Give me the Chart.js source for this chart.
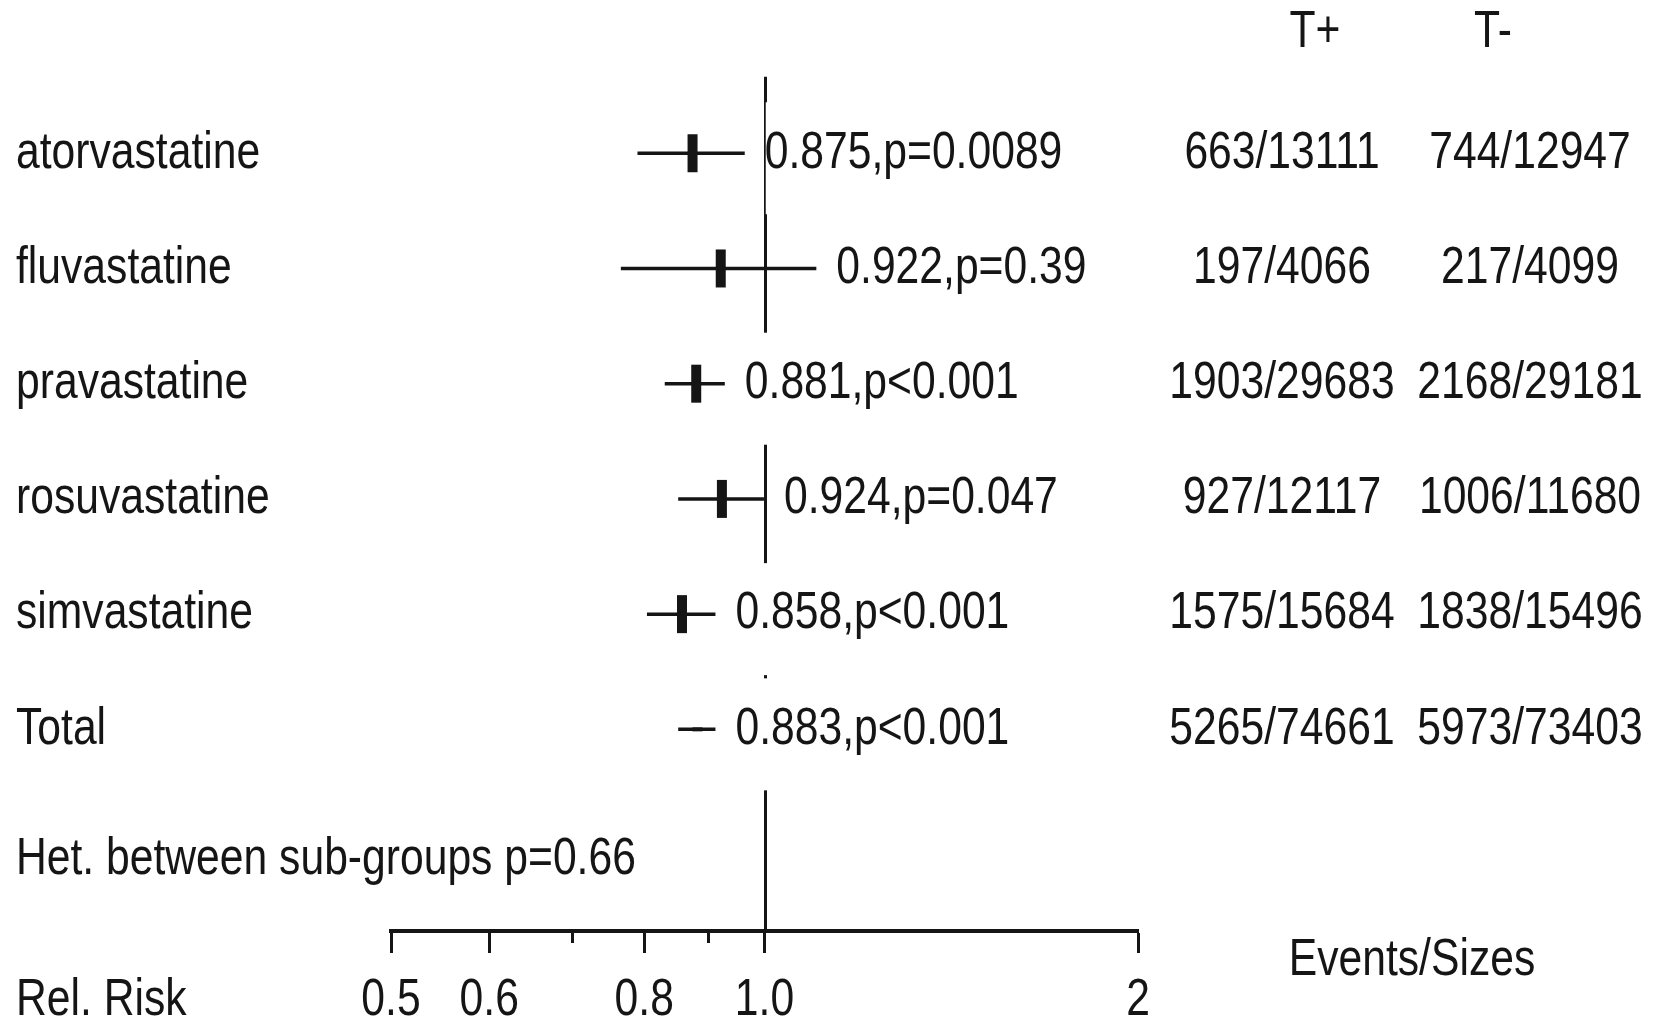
<!DOCTYPE html>
<html>
<head>
<meta charset="utf-8">
<title>Statins – relative risk by drug</title>
<script src="https://cdn.jsdelivr.net/npm/chart.js@4.4.1/dist/chart.umd.min.js"></script>
<style>
  html, body { margin: 0; padding: 0; background: #ffffff; }
  #wrap { width: 1654px; height: 1023px; }
</style>
</head>
<body>
<div id="wrap"><canvas id="forest" width="1654" height="1023"></canvas></div>
<script>
// ---- data -------------------------------------------------------------
const drugs        = ['atorvastatine', 'fluvastatine', 'pravastatine', 'rosuvastatine', 'simvastatine', 'Total'];
const relRisk      = [0.875, 0.922, 0.881, 0.924, 0.858, 0.883];
const ciLow        = [0.790, 0.766, 0.831, 0.852, 0.804, 0.852];
const ciHigh       = [0.964, 1.101, 0.929, 0.999, 0.913, 0.913];
const pValues      = ['p=0.0089', 'p=0.39', 'p<0.001', 'p=0.047', 'p<0.001', 'p<0.001'];
const eventsTreat  = ['663/13111', '197/4066', '1903/29683', '927/12117', '1575/15684', '5265/74661'];
const eventsCtrl   = ['744/12947', '217/4099', '2168/29181', '1006/11680', '1838/15496', '5973/73403'];
const groupHeaders = ['T+', 'T-'];
const hetLabel     = 'Het. between sub-groups p=0.66';
const axisTitle    = 'Rel. Risk';
const eventsTitle  = 'Events/Sizes';
const tickValues   = [0.5, 0.6, 0.7, 0.8, 0.9, 1.0, 2];
const tickLabels   = ['0.5', '0.6', '', '0.8', '', '1.0', '2'];
const nullValue    = 1.0;

// ---- styling ----------------------------------------------------------
const INK     = '#151515';
const FONT    = "'Liberation Sans', Arial, sans-serif";
const FSIZE   = 52;
const SQUEEZE = 0.82;            // narrow, tall lettering
const totalIndex = drugs.length - 1;

// row slots on the (hidden) vertical scale
const Y_HEADER = -1.05;
const Y_REFTOP = -0.663;
const Y_HET    = 6.13;
const Y_EVTTTL = 7.005;
const Y_TICKS  = 7.355;

// draws condensed text; returns its drawn width
function narrowText(ctx, str, x, y, align) {
  const w = ctx.measureText(str).width * SQUEEZE;
  let left = x;
  if (align === 'center') left = x - w / 2;
  else if (align === 'right') left = x - w;
  ctx.save();
  ctx.translate(left, y);
  ctx.scale(SQUEEZE, 1);
  ctx.textAlign = 'left';
  ctx.fillText(str, 0, 0);
  ctx.restore();
  return w;
}

// confidence interval segments, one dataset per row
const ciSets = drugs.map((d, i) => ({
  label: d + ' CI',
  data: [{ x: ciLow[i], y: i }, { x: ciHigh[i], y: i }],
  showLine: true,
  borderColor: INK,
  borderWidth: 3.5,
  pointRadius: 0,
  order: 2
}));

// point estimates drawn as thick vertical bars
const estSet = {
  label: 'estimate',
  data: relRisk.map((v, i) => ({ x: v, y: i })),
  showLine: false,
  pointStyle: 'line',
  rotation: 90,
  pointRadius: ctx => ctx.dataIndex === totalIndex ? 2 : 19,
  pointBorderWidth: 10,
  borderColor: INK,
  backgroundColor: INK,
  order: 1
};

// vertical line of no effect, drawn beneath the marks
const nullLine = {
  id: 'nullLine',
  beforeDatasetsDraw(chart) {
    const { ctx, scales: { x, y }, chartArea } = chart;
    const px = Math.round(x.getPixelForValue(nullValue)) + 0.5;
    ctx.save();
    ctx.strokeStyle = INK;
    ctx.lineWidth = 3;
    ctx.beginPath();
    ctx.moveTo(px, y.getPixelForValue(Y_REFTOP));
    ctx.lineTo(px, chartArea.bottom);
    ctx.stroke();
    ctx.restore();
  }
};

// minor ticks (0.7, 0.9) are shorter; tick labels in condensed type
const axisExtras = {
  id: 'axisExtras',
  afterDraw(chart) {
    const { ctx, scales: { x, y }, chartArea } = chart;
    ctx.save();
    ctx.strokeStyle = INK;
    ctx.fillStyle = INK;
    ctx.lineWidth = 3;
    ctx.font = FSIZE + 'px ' + FONT;
    ctx.textBaseline = 'middle';
    const ly = y.getPixelForValue(Y_TICKS);
    tickValues.forEach((v, i) => {
      const px = x.getPixelForValue(v);
      if (tickLabels[i] === '') {
        const p = Math.round(px) + 0.5;
        ctx.beginPath();
        ctx.moveTo(p, chartArea.bottom);
        ctx.lineTo(p, chartArea.bottom + 12);
        ctx.stroke();
      } else {
        narrowText(ctx, tickLabels[i], px, ly, 'center');
      }
    });
    narrowText(ctx, axisTitle, 16, ly, 'left');
    ctx.restore();
  }
};

// text columns: drug names, estimate labels, event counts, headers
const textLayer = {
  id: 'textLayer',
  afterDatasetsDraw(chart) {
    const { ctx, scales: { x, y } } = chart;
    ctx.save();
    ctx.font = FSIZE + 'px ' + FONT;
    ctx.textBaseline = 'middle';
    ctx.fillStyle = INK;

    drugs.forEach((d, i) => {
      const cy = y.getPixelForValue(i);
      narrowText(ctx, d, 16, cy, 'left');

      // estimate label sits on an opaque cell to the right of the interval
      const label = relRisk[i].toFixed(3) + ',' + pValues[i];
      const tx = x.getPixelForValue(ciHigh[i]) + 20;
      const w = ctx.measureText(label).width * SQUEEZE;
      ctx.fillStyle = '#ffffff';
      ctx.fillRect(tx + 1, cy - 51, w + 4, 112);
      ctx.fillStyle = INK;
      narrowText(ctx, label, tx, cy, 'left');

      // events / sizes
      narrowText(ctx, eventsTreat[i], 1282, cy, 'center');
      narrowText(ctx, eventsCtrl[i], 1530, cy, 'center');
    });

    const hy = y.getPixelForValue(Y_HEADER);
    narrowText(ctx, groupHeaders[0], 1315, hy, 'center');
    narrowText(ctx, groupHeaders[1], 1493, hy, 'center');
    narrowText(ctx, eventsTitle, 1412, y.getPixelForValue(Y_EVTTTL), 'center');
    narrowText(ctx, hetLabel, 16, y.getPixelForValue(Y_HET), 'left');
    ctx.restore();
  }
};

function draw() {
  new Chart(document.getElementById('forest'), {
    type: 'scatter',
    data: { datasets: [...ciSets, estSet] },
    options: {
      responsive: false,
      devicePixelRatio: 1,
      animation: false,
      events: [],
      layout: { autoPadding: false, padding: { left: 391, right: 516, top: 0, bottom: 70 } },
      plugins: { legend: { display: false }, tooltip: { enabled: false } },
      scales: {
        x: {
          type: 'logarithmic',
          position: 'bottom',
          min: 0.5,
          max: 2,
          afterBuildTicks: scale => { scale.ticks = tickValues.map(v => ({ value: v })); },
          ticks: { display: false, autoSkip: false, maxRotation: 0 },
          grid: {
            drawOnChartArea: false,
            drawTicks: true,
            tickLength: 22,
            tickWidth: 3,
            tickColor: ctx => (tickLabels[ctx.index] === '' ? 'rgba(0,0,0,0)' : INK)
          },
          border: { display: true, color: INK, width: 4 }
        },
        y: {
          type: 'linear',
          display: false,
          reverse: true,
          min: -1.33,
          max: 6.75
        }
      }
    },
    plugins: [nullLine, textLayer, axisExtras]
  });
}

if (document.fonts && document.fonts.load) {
  document.fonts.load(FSIZE + 'px ' + FONT).then(draw, draw);
} else {
  draw();
}
</script>
</body>
</html>
